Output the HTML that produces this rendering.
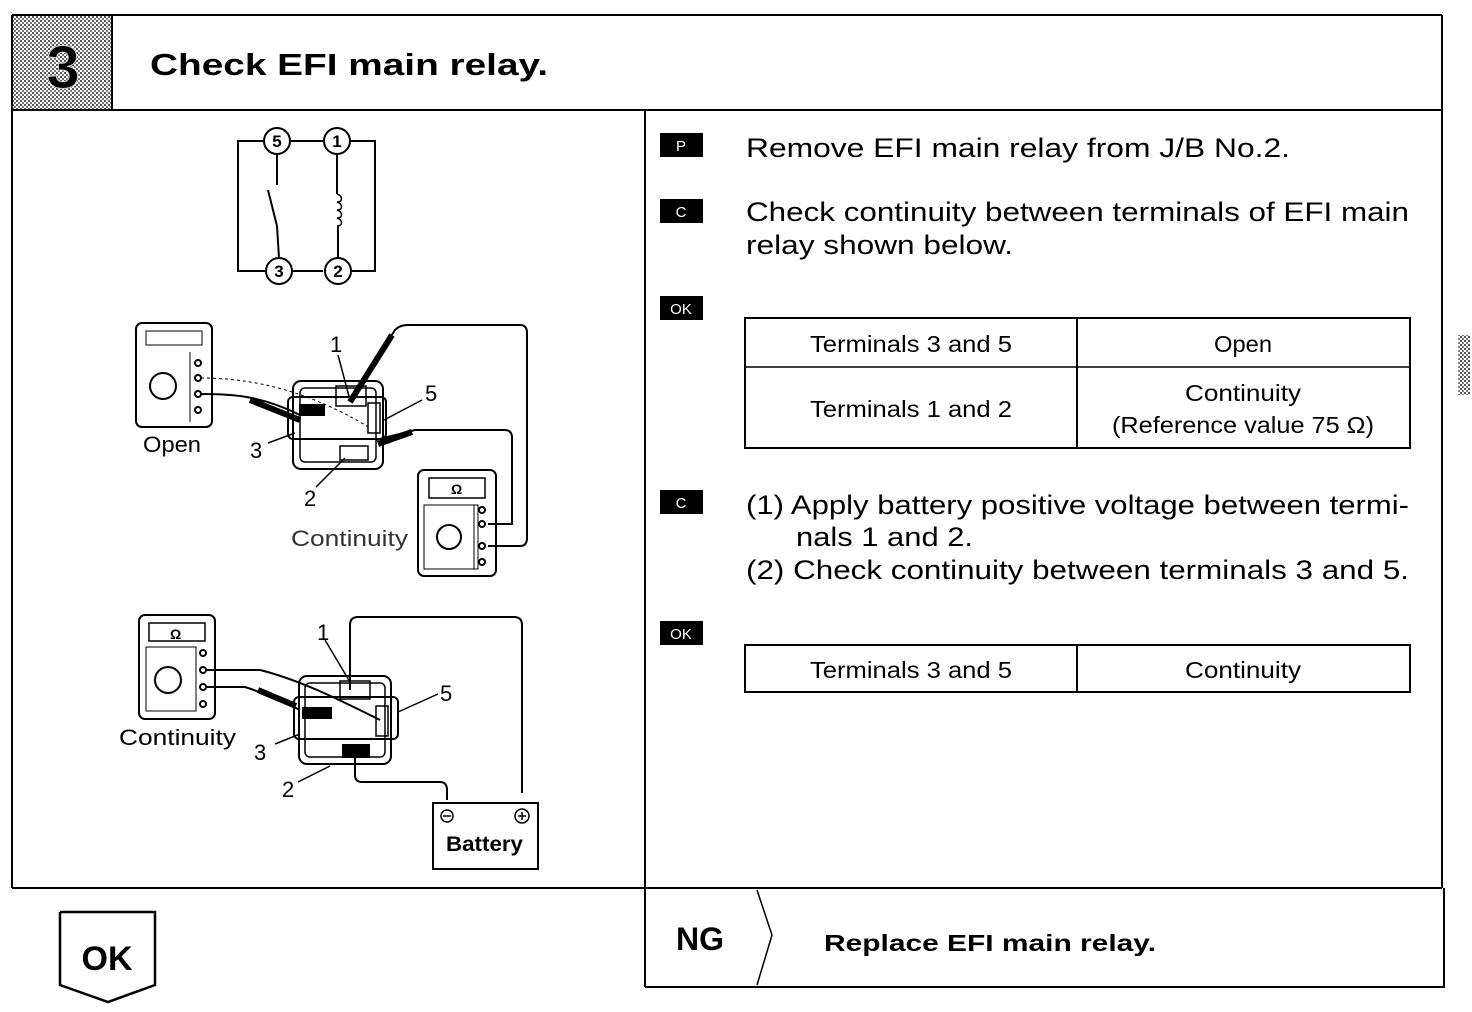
<!DOCTYPE html>
<html><head><meta charset="utf-8"><style>
html,body{margin:0;padding:0;background:#fff;}
svg{display:block;}
text{font-family:"Liberation Sans",sans-serif;fill:#000;}
</style></head><body>
<svg width="1472" height="1012" viewBox="0 0 1472 1012" xmlns="http://www.w3.org/2000/svg">
<defs>
<pattern id="dith" width="4" height="4" patternUnits="userSpaceOnUse">
<rect width="4" height="4" fill="#fff"/><rect width="2" height="2" fill="#555"/><rect x="2" y="2" width="2" height="2" fill="#777"/>
</pattern>
</defs>
<g fill="none" stroke="#000" stroke-width="2">
<line x1="12" y1="15" x2="1442" y2="15"/>
<line x1="12" y1="110" x2="1442" y2="110"/>
<line x1="12" y1="15" x2="12" y2="888"/>
<line x1="1442" y1="15" x2="1442" y2="888"/>
<line x1="12" y1="888" x2="1442" y2="888"/>
<line x1="645" y1="110" x2="645" y2="987"/>
<line x1="645" y1="987" x2="1445" y2="987"/>
<line x1="1444" y1="888" x2="1444" y2="987"/>
<polyline points="757,890 772,935 757,985" stroke-width="1.5"/>
</g>
<rect x="13" y="16" width="99" height="93" fill="url(#dith)"/>
<line x1="112" y1="15" x2="112" y2="110" stroke="#000" stroke-width="2"/>
<text x="63" y="88" font-size="60" font-weight="bold" text-anchor="middle" fill="#000" stroke="#ccc" stroke-width="1">3</text>
<text x="150" y="75" font-size="31" font-weight="bold" textLength="398" lengthAdjust="spacingAndGlyphs">Check EFI main relay.</text>

<g fill="#000">
<rect x="660" y="133" width="43" height="24"/>
<rect x="660" y="199" width="43" height="24"/>
<rect x="660" y="296" width="43" height="24"/>
<rect x="660" y="490" width="43" height="24"/>
<rect x="660" y="621" width="43" height="24"/>
</g>
<g font-size="15" text-anchor="middle">
<text x="681" y="151" style="fill:#fff">P</text>
<text x="681" y="217" style="fill:#fff">C</text>
<text x="681" y="314" style="fill:#fff">OK</text>
<text x="681" y="508" style="fill:#fff">C</text>
<text x="681" y="639" style="fill:#fff">OK</text>
</g>
<g font-size="27" lengthAdjust="spacingAndGlyphs">
<text x="746" y="157" textLength="544" lengthAdjust="spacingAndGlyphs">Remove EFI main relay from J/B No.2.</text>
<text x="746" y="221" textLength="663" lengthAdjust="spacingAndGlyphs">Check continuity between terminals of EFI main</text>
<text x="746" y="254" textLength="267" lengthAdjust="spacingAndGlyphs">relay shown below.</text>
<text x="746" y="514" textLength="663" lengthAdjust="spacingAndGlyphs">(1) Apply battery positive voltage between termi-</text>
<text x="796" y="546" textLength="177" lengthAdjust="spacingAndGlyphs">nals 1 and 2.</text>
<text x="746" y="579" textLength="663" lengthAdjust="spacingAndGlyphs">(2) Check continuity between terminals 3 and 5.</text>
</g>
<g fill="none" stroke="#000" stroke-width="2">
<rect x="745" y="318" width="665" height="130"/>
<line x1="1077" y1="318" x2="1077" y2="448"/>
<line x1="745" y1="367" x2="1410" y2="367" stroke-width="1.5"/>
<rect x="745" y="645" width="665" height="47"/>
<line x1="1077" y1="645" x2="1077" y2="692"/>
</g>
<g font-size="23" text-anchor="middle">
<text x="911" y="352" textLength="202" lengthAdjust="spacingAndGlyphs">Terminals 3 and 5</text>
<text x="1243" y="352" textLength="58" lengthAdjust="spacingAndGlyphs">Open</text>
<text x="911" y="417" textLength="202" lengthAdjust="spacingAndGlyphs">Terminals 1 and 2</text>
<text x="1243" y="401" textLength="116" lengthAdjust="spacingAndGlyphs">Continuity</text>
<text x="1243" y="433" textLength="262" lengthAdjust="spacingAndGlyphs">(Reference value 75 Ω)</text>
<text x="911" y="678" textLength="202" lengthAdjust="spacingAndGlyphs">Terminals 3 and 5</text>
<text x="1243" y="678" textLength="116" lengthAdjust="spacingAndGlyphs">Continuity</text>
</g>
<rect x="1458" y="335" width="12" height="60" fill="url(#dith)"/>

<text x="676" y="950" font-size="32" font-weight="bold">NG</text>
<text x="824" y="951" font-size="23" font-weight="bold" textLength="332" lengthAdjust="spacingAndGlyphs">Replace EFI main relay.</text>
<polyline points="60,912 155,912 155,985 108,1002 60,985 60,912" fill="none" stroke="#000" stroke-width="2.5"/>
<text x="107" y="970" font-size="34" font-weight="bold" text-anchor="middle">OK</text>

<g fill="none" stroke="#000" stroke-width="2">
<polyline points="263,141 238,141 238,271 265,271"/>
<polyline points="350,141 375,141 375,271 350,271"/>
<line x1="291" y1="141" x2="323" y2="141"/>
<line x1="291" y1="271" x2="323" y2="271"/>
<circle cx="277" cy="141" r="13"/><circle cx="337" cy="141" r="13"/>
<circle cx="279" cy="271" r="13"/><circle cx="338" cy="271" r="13"/>
<line x1="277" y1="154" x2="277" y2="185"/>
<line x1="268" y1="190" x2="277" y2="226"/>
<line x1="277" y1="226" x2="279" y2="258"/>
<line x1="337" y1="154" x2="337" y2="194"/>
<path d="M337,194 c6,2 6,8 0,8 c6,2 6,8 0,8 c6,2 6,8 0,8 c6,2 6,8 0,8" stroke-width="1.5"/>
<line x1="338" y1="226" x2="338" y2="258"/>
</g>
<g font-size="17" font-weight="bold" text-anchor="middle">
<text x="277" y="147">5</text><text x="337" y="147">1</text>
<text x="279" y="277">3</text><text x="338" y="277">2</text>
</g>

<g fill="none" stroke="#000" stroke-width="2">
<rect x="136" y="323" width="76" height="104" rx="6"/>
<rect x="146" y="331" width="56" height="14" stroke-width="1"/>
<circle cx="163" cy="386" r="13"/>
<line x1="190" y1="352" x2="190" y2="422" stroke-width="1"/>
<circle cx="198" cy="363" r="3"/><circle cx="198" cy="378" r="3"/><circle cx="198" cy="394" r="3"/><circle cx="198" cy="410" r="3"/>
<rect x="293" y="381" width="90" height="88" rx="8"/>
<rect x="300" y="388" width="76" height="74" rx="5" stroke-width="1.5"/>
<rect x="288" y="397" width="98" height="42" rx="5"/>
<rect x="336" y="386" width="30" height="20" stroke-width="1.5"/>
<rect x="340" y="446" width="28" height="14" stroke-width="1.5"/>
<rect x="368" y="403" width="12" height="30" stroke-width="1.5"/>
<rect x="300" y="405" width="24" height="10" fill="#000"/>
<path d="M201,378 C240,378 300,385 370,428" stroke-width="1" stroke-dasharray="3,3"/>
<path d="M201,394 C230,394 260,395 300,415" stroke-width="2"/>
<path d="M250,400 L300,420" stroke-width="6"/>
<path d="M350,400 L395,330 C400,325 405,325 410,325 L520,325 Q527,325 527,333 L527,538 Q527,546 520,546 L488,546"/>
<path d="M350,402 L392,335" stroke-width="6"/>
<path d="M376,440 L415,430 L505,430 Q512,430 512,438 L512,524 L488,524"/>
<path d="M378,444 L412,432" stroke-width="6"/>
<rect x="418" y="470" width="78" height="106" rx="6"/>
<rect x="429" y="478" width="56" height="20" stroke-width="1.5"/>
<rect x="424" y="505" width="54" height="64" stroke-width="1"/>
<circle cx="449" cy="537" r="12"/>
<line x1="474" y1="505" x2="474" y2="569" stroke-width="1"/>
<circle cx="482" cy="510" r="3"/><circle cx="482" cy="524" r="3"/><circle cx="482" cy="546" r="3"/><circle cx="482" cy="562" r="3"/>
<line x1="338" y1="355" x2="350" y2="400" stroke-width="1.5"/>
<line x1="422" y1="400" x2="384" y2="420" stroke-width="1.5"/>
<line x1="268" y1="443" x2="295" y2="433" stroke-width="1.5"/>
<line x1="316" y1="487" x2="345" y2="458" stroke-width="1.5"/>
</g>
<g font-size="22">
<text x="330" y="352">1</text>
<text x="425" y="401">5</text>
<text x="250" y="458">3</text>
<text x="304" y="506">2</text>
<text x="143" y="452" textLength="58" lengthAdjust="spacingAndGlyphs">Open</text>
<text x="291" y="546" style="fill:#333" textLength="117" lengthAdjust="spacingAndGlyphs">Continuity</text>
<text x="451" y="494" font-size="14" font-weight="bold">Ω</text>
</g>

<g fill="none" stroke="#000" stroke-width="2">
<rect x="139" y="615" width="76" height="104" rx="6"/>
<rect x="149" y="623" width="56" height="18" stroke-width="1.5"/>
<rect x="146" y="647" width="50" height="64" stroke-width="1"/>
<circle cx="168" cy="680" r="13"/>
<line x1="196" y1="647" x2="196" y2="711" stroke-width="1"/>
<circle cx="203" cy="653" r="3"/><circle cx="203" cy="670" r="3"/><circle cx="203" cy="687" r="3"/><circle cx="203" cy="704" r="3"/>
<rect x="299" y="676" width="92" height="88" rx="8"/>
<rect x="305" y="683" width="80" height="74" rx="5" stroke-width="1.5"/>
<rect x="294" y="697" width="104" height="42" rx="5"/>
<rect x="340" y="681" width="30" height="18" stroke-width="1.5"/>
<rect x="343" y="745" width="26" height="12" fill="#000"/>
<rect x="376" y="706" width="12" height="30" stroke-width="1.5"/>
<rect x="303" y="708" width="28" height="10" fill="#000"/>
<path d="M206,670 L260,670 C300,680 340,700 380,720"/>
<path d="M206,687 L245,687 C270,695 290,705 300,710"/>
<path d="M258,690 L296,706" stroke-width="6"/>
<path d="M350,690 L350,625 Q350,617 358,617 L514,617 Q522,617 522,625 L522,793"/>
<path d="M355,757 L355,775 Q355,782 362,782 L440,782 Q447,782 447,790 L447,800"/>
<rect x="433" y="803" width="105" height="66" stroke-width="2"/>
<circle cx="447" cy="816" r="6" stroke-width="1.5"/>
<circle cx="522" cy="816" r="7" stroke-width="1.5"/>
<line x1="443" y1="816" x2="451" y2="816" stroke-width="1.5"/>
<line x1="518" y1="816" x2="526" y2="816" stroke-width="1.5"/><line x1="522" y1="812" x2="522" y2="820" stroke-width="1.5"/>
<line x1="325" y1="640" x2="350" y2="682" stroke-width="1.5"/>
<line x1="438" y1="694" x2="398" y2="712" stroke-width="1.5"/>
<line x1="275" y1="744" x2="300" y2="734" stroke-width="1.5"/>
<line x1="298" y1="782" x2="330" y2="766" stroke-width="1.5"/>
</g>
<g font-size="22">
<text x="317" y="640">1</text>
<text x="440" y="701">5</text>
<text x="254" y="760">3</text>
<text x="282" y="797">2</text>
<text x="119" y="745" textLength="117" lengthAdjust="spacingAndGlyphs">Continuity</text>
<text x="446" y="851" font-size="21" font-weight="bold" textLength="77" lengthAdjust="spacingAndGlyphs">Battery</text>
<text x="170" y="639" font-size="14" font-weight="bold">Ω</text>
</g>
</svg>
</body></html>
